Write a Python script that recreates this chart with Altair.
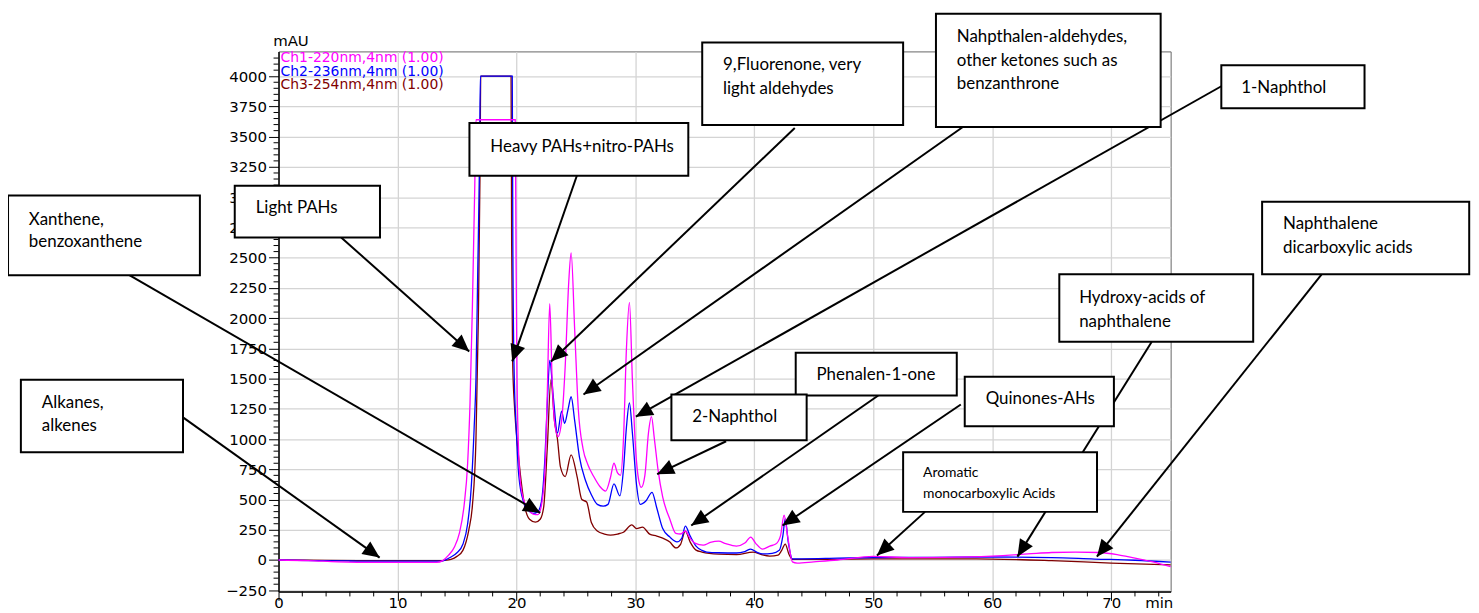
import math
import altair as alt
import pandas as pd

# ---------------- chromatogram traces (time in min, signal in mAU) ----------------
ch1_t = [0, 2.5, 5, 8, 11, 13.3, 13.8, 14.3, 14.8, 15.2, 15.6, 15.9, 16.1, 16.3, 16.5, 16.6,
         19.9, 19.97, 20.05, 20.15, 20.3, 20.6, 21.0, 21.4, 21.8, 22.1, 22.4, 22.6, 22.8,
         23.0, 23.2, 23.5, 23.8, 24.1, 24.4, 24.6, 24.9, 25.2, 25.6, 26.0, 26.5, 27.0, 27.5,
         27.9, 28.2, 28.5, 28.75, 29.0, 29.25, 29.5, 29.75, 30.0, 30.3, 30.5, 30.8, 31.1,
         31.35, 31.6, 31.9, 32.3, 32.9, 33.4, 33.8, 34.2, 34.6, 35.0, 35.7, 36.3, 37.0, 37.6,
         38.5, 39.2, 39.7, 40.1, 40.7, 41.3, 41.8, 42.2, 42.5, 42.8, 43.2, 43.6, 45, 47, 50,
         53, 56, 60, 63, 65, 67, 69, 70.5, 72, 73.5, 75]
ch1_v = [0, -5, -15, -20, -20, -20, -5, 40, 110, 220, 450, 800, 1300, 2100, 3100, 3640,
         3640, 2500, 1500, 1000, 680, 500, 420, 380, 375, 450, 750, 1400, 2120,
         1500, 1150, 1020, 1150, 1600, 2300, 2540, 1900, 1250, 920, 790, 690, 610, 570,
         680, 800, 720, 700, 1000, 1750, 2130, 1490, 950, 650, 600, 700, 1050,
         1185, 1000, 750, 520, 337, 220, 215, 240, 180, 140, 123, 145, 156, 135,
         115, 140, 190, 140, 90, 115, 132, 200, 370, 200, -15, -25, -15, 0, 30,
         20, 22, 33, 50, 62, 66, 62, 45, 15, -15, -55]

ch2_t = [0, 3, 6, 9, 12, 13.5, 14.0, 14.5, 15.0, 15.5, 15.9, 16.2, 16.45, 16.6, 16.75, 16.9,
         16.97, 19.65, 19.7, 19.8, 20.0, 20.2, 20.6, 21.0, 21.4, 21.8, 22.1, 22.4, 22.6, 22.8,
         23.1, 23.45, 23.8, 24.05, 24.35, 24.6, 24.9, 25.3, 25.8, 26.3, 26.8, 27.3, 27.7, 28.2,
         28.7, 29.0, 29.25, 29.5, 29.75, 30.1, 30.4, 30.9, 31.4, 31.8, 32.3, 32.9, 33.5, 33.9,
         34.2, 34.6, 35.1, 35.6, 36.0, 37.0, 38.5, 39.2, 39.7, 40.2, 40.7, 41.5, 42.1, 42.4,
         42.6, 42.85, 43.2, 44, 47, 50, 55, 60, 65, 68.6, 72, 75]
ch2_v = [0, -5, -8, -10, -10, -10, 0, 25, 60, 130, 300, 600, 1100, 1500, 2400, 3300,
         4000, 4000, 2600, 1600, 1050, 700, 480, 410, 385, 400, 480, 850, 1300, 1650,
         1350, 1050, 1230, 1130, 1250, 1350, 1150, 850, 660, 540, 460, 445, 460, 630,
         530, 750, 1100, 1300, 1050, 620, 460, 490, 560, 430, 260, 190, 150, 180,
         280, 200, 115, 80, 66, 60, 58, 70, 90, 65, 50, 55, 80, 200,
         340, 150, 10, 10, 15, 20, 22, 25, 20, 8, -2, -18]

ch3_t = [0, 4, 8, 12, 13.5, 14.0, 14.5, 15.0, 15.5, 16.0, 16.3, 16.6, 16.8, 16.95, 17.0,
         19.55, 19.6, 19.68, 19.85, 20.1, 20.4, 20.7, 21.1, 21.6, 22.0, 22.3, 22.6, 22.9,
         23.2, 23.45, 23.7, 24.1, 24.6, 25.1, 25.5, 25.9, 26.3, 26.8, 27.4, 27.9, 28.5,
         29.0, 29.7, 30.1, 30.6, 31.2, 31.8, 32.3, 32.9, 33.4, 33.8, 34.2, 34.6, 35.1, 35.6,
         37.0, 38.5, 39.9, 40.6, 41.3, 42.0, 42.3, 42.6, 42.9, 43.2, 45, 50, 55, 60, 65, 70, 75]
ch3_v = [0, -3, -5, -5, -5, -3, 5, 30, 80, 250, 450, 1000, 2000, 3300, 4000,
         4000, 2600, 1650, 1250, 940, 650, 444, 337, 313, 337, 444, 938, 1490,
         1150, 1000, 770, 690, 870, 690, 500, 480, 310, 240, 215, 206, 215,
         230, 290, 260, 272, 214, 198, 181, 148, 100, 130, 239, 150, 82, 66,
         49, 45, 66, 45, 33, 41, 80, 132, 50, 5, 5, 10, 10, 8, -5, -25, -41]

series_names = ["Ch1-220nm,4nm (1.00)", "Ch2-236nm,4nm (1.00)", "Ch3-254nm,4nm (1.00)"]
series_colors = ["#ff00ff", "#0000ff", "#800000"]

# ---------------- axes ----------------
x_ticks = [0, 10, 20, 30, 40, 50, 60, 70]
x_minor = [t for t in range(2, 75, 2) if t % 10 != 0]
y_ticks = list(range(-250, 4001, 250))
y_minor = [v for v in range(-200, 4151, 50) if v % 250 != 0]

# ---------------- annotations (in data units: minutes, mAU) ----------------
ann_lines = [["Alkanes,", "alkenes"],
             ["Xanthene,", "benzoxanthene"],
             ["Light PAHs"],
             ["Heavy PAHs+nitro-PAHs"],
             ["9,Fluorenone, very", "light aldehydes"],
             ["Nahpthalen-aldehydes,", "other ketones such as", "benzanthrone"],
             ["1-Naphthol"],
             ["Naphthalene", "dicarboxylic acids"],
             ["Hydroxy-acids of", "naphthalene"],
             ["Phenalen-1-one"],
             ["2-Naphthol"],
             ["Quinones-AHs"],
             ["Aromatic", "monocarboxylic Acids"]]
ann_x1 = [-21.66, -22.74, -3.68, 16.05, 35.62, 55.27, 79.26, 82.69, 65.64, 43.48, 33.03, 57.69, 52.51]
ann_x2 = [-8.03, -6.61, 8.53, 34.45, 52.51, 74.16, 91.30, 100.1, 81.94, 57.02, 44.40, 70.23, 68.81]
ann_top = [1491, 3013, 3095, 3613, 4279, 4517, 4090, 2963, 2363, 1713, 1368, 1516, 891]
ann_bottom = [891, 2355, 2667, 3177, 3596, 3580, 3736, 2363, 1804, 1360, 990, 1105, 398]
ann_text_x = [-19.90, -20.99, -1.92, 17.81, 37.37, 57.02, 80.94, 84.45, 67.31, 45.23, 34.78, 59.45, 54.18]
ann_text_y = [[1302, 1105], [2815, 2626], [2914], [3416], [4090, 3893], [4328, 4123, 3934],
              [3901], [2774, 2577], [2166, 1968], [1533], [1179], [1335], [718, 546]]
ann_font = [17, 17, 17, 17, 17, 17, 17, 17, 17, 17, 17, 17, 14]
arr_x0 = [-8.03, -12.54, 5.27, 25.08, 43.4, 57.53, 79.26, 87.71, 73.41, 50.42, 37.63, 57.36, 54.35]
arr_y0 = [1179, 2355, 2667, 3177, 3572, 3580, 3917, 2363, 1804, 1360, 982, 1286, 398]
arr_x1 = [8.5, 22.0, 16.03, 19.65, 22.91, 25.64, 30.04, 68.8, 62.12, 34.70, 31.83, 42.37, 50.31]
arr_y1 = [20, 390, 1724, 1642, 1642, 1368, 1185, 28, 28, 285, 710, 285, 38]

# ---------------- layout ----------------
W, H = 897, 543
X_DOM = [0, 75]
Y_DOM = [-260, 4205]
SX = W / (X_DOM[1] - X_DOM[0])
SY = H / (Y_DOM[1] - Y_DOM[0])

xs = alt.Scale(domain=X_DOM, nice=False, zero=False)
ys = alt.Scale(domain=Y_DOM, nice=False, zero=False)

df_boxes = pd.DataFrame({"x1": ann_x1, "x2": ann_x2, "top": ann_top, "bottom": ann_bottom})

trows = []
for lines_, tx, tys, fs in zip(ann_lines, ann_text_x, ann_text_y, ann_font):
    for line, ty in zip(lines_, tys):
        trows.append({"x": tx, "y": ty, "text": line, "fs": fs})
df_text = pd.DataFrame(trows)


def head_angle(x0, y0, x1, y1):
    dx = (x1 - x0) * SX
    dy = -(y1 - y0) * SY
    return math.degrees(math.atan2(dx, -dy)) % 360


df_arrows = pd.DataFrame({
    "x0": arr_x0, "y0": arr_y0, "x1": arr_x1, "y1": arr_y1,
    "ang": [head_angle(a, b, c, d) for a, b, c, d in zip(arr_x0, arr_y0, arr_x1, arr_y1)],
})

AX_FONT = "DejaVu Sans"
ANN_FONT = "Lato"

x_axis = alt.Axis(values=x_ticks, format="d", title="min", titleAngle=0, titleX=885, titleY=16,
                  titleAlign="center", titleBaseline="alphabetic", titleFont=AX_FONT,
                  titleFontSize=15, titleFontWeight="normal", titleColor="black",
                  labelFont=AX_FONT, labelFontSize=15, labelColor="black",
                  labelBaseline="alphabetic", labelPadding=7, labelFlush=False,
                  labelOverlap=False, tickSize=9, tickColor="black", tickWidth=1,
                  domainColor="black", domainWidth=1.5, grid=True, gridColor="#d4d4d4",
                  gridWidth=1.3)
y_axis = alt.Axis(values=y_ticks, format="d", title="mAU", titleAngle=0, titleX=12, titleY=-6,
                  titleAlign="center", titleBaseline="alphabetic", titleFont=AX_FONT,
                  titleFontSize=15, titleFontWeight="normal", titleColor="black",
                  labelFont=AX_FONT, labelFontSize=15, labelColor="black",
                  labelPadding=2, labelOverlap=False, tickSize=10, tickColor="black",
                  tickWidth=1, domainColor="black", domainWidth=1.5, grid=True,
                  gridColor="#d4d4d4", gridWidth=1.3)


def X(field):
    return alt.X(field, scale=xs, axis=x_axis)


def Y(field):
    return alt.Y(field, scale=ys, axis=y_axis)


# draw Ch3 first, Ch1 last (on top)
trace_layers = []
for name, col, ts, vs in reversed(list(zip(series_names, series_colors,
                                           [ch1_t, ch2_t, ch3_t], [ch1_v, ch2_v, ch3_v]))):
    trace_layers.append(
        alt.Chart(pd.DataFrame({"t": ts, "v": vs})).mark_line(
            strokeWidth=1.3, interpolate="monotone", color=col
        ).encode(x=X("t:Q"), y=Y("v:Q"), order=alt.Order("t:Q"))
    )

xminor = alt.Chart(pd.DataFrame({"t": x_minor})).mark_rule(color="black", strokeWidth=1).encode(
    x=X("t:Q"), y=alt.value(H), y2=alt.value(H + 5))
yminor = alt.Chart(pd.DataFrame({"v": y_minor})).mark_rule(color="black", strokeWidth=1).encode(
    y=Y("v:Q"), x=alt.value(-5), x2=alt.value(0))

legend_layers = []
for i, (name, col) in enumerate(zip(series_names, series_colors)):
    legend_layers.append(
        alt.Chart(pd.DataFrame({"name": [name]})).mark_text(
            align="left", baseline="alphabetic", font=AX_FONT, fontSize=14, color=col
        ).encode(x=alt.value(2), y=alt.value(11 + 13.5 * i), text="name:N")
    )

arrow_lines = alt.Chart(df_arrows).mark_rule(color="black", strokeWidth=2).encode(
    x=X("x0:Q"), y=Y("y0:Q"), x2="x1:Q", y2="y1:Q")

boxes = alt.Chart(df_boxes).mark_rect(fill="white", stroke="black", strokeWidth=2).encode(
    x=X("x1:Q"), x2="x2:Q", y=Y("top:Q"), y2="bottom:Q")

texts = alt.Chart(df_text).mark_text(align="left", baseline="middle", font=ANN_FONT,
                                     color="black").encode(
    x=X("x:Q"), y=Y("y:Q"), text="text:N", size=alt.Size("fs:Q", scale=None))

heads = alt.Chart(df_arrows).mark_point(shape="M0,0L-0.45,1L0.45,1Z", filled=True, size=1156,
                                        color="black", opacity=1, strokeWidth=0).encode(
    x=X("x1:Q"), y=Y("y1:Q"), angle=alt.Angle("ang:Q", scale=None))

chart = alt.layer(*trace_layers, xminor, yminor, *legend_layers, arrow_lines, boxes, texts,
                  heads).properties(
    width=W, height=H,
    autosize=alt.AutoSizeParams(type="none"),
    padding={"left": 272, "top": 42, "right": 302, "bottom": 20},
).configure_view(stroke="#666666", strokeWidth=1)

chart.save("out.html", embed_options={"renderer": "svg", "actions": False})
